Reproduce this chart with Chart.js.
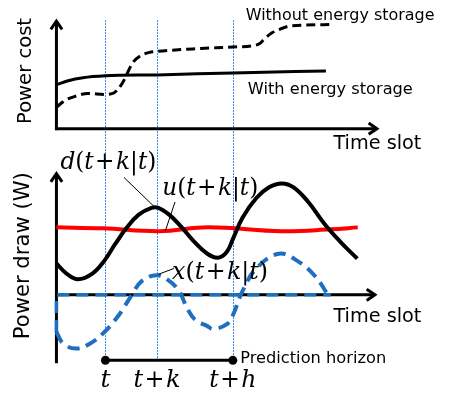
<!DOCTYPE html>
<html><head><meta charset="utf-8">
<script src="https://cdn.jsdelivr.net/npm/chart.js@4/dist/chart.umd.min.js"></script>
<style>html,body{margin:0;padding:0;background:#fff}canvas{display:block}</style>
</head><body>
<canvas id="c" width="449" height="400"></canvas>
<script>
// ---- data (schematic units) ----
const slotValues = [2, 4.1, 7.2];
const slotLabels = ['t', 't+k', 't+h'];

// top panel: power cost
const withStorageX = [0, 0.48, 1.08, 2, 4.1, 7.2, 11];
const withStorageY = [4.5, 4.9, 5.2, 5.4, 5.5, 5.7, 5.9];
const withoutStorageX = [0, 0.36, 0.76, 1.28, 2, 2.3, 2.5, 2.7, 2.9, 3.1, 3.4, 3.8, 4.1, 5.9, 7.2, 8.05, 8.3, 8.5, 8.8, 9.15, 9.55, 11.3];
const withoutStorageY = [2.2, 2.9, 3.3, 3.6, 3.5, 3.6, 4.0, 4.7, 5.7, 6.7, 7.4, 7.8, 7.9, 8.2, 8.35, 8.5, 8.7, 9.2, 9.8, 10.2, 10.5, 10.65];

// bottom panel: power draw
const demandX = [0, 0.4, 0.88, 1.48, 1.96, 2.4, 2.88, 3.36, 3.88, 4.16, 4.6, 5.08, 5.6, 6.16, 6.6, 6.96, 7.2, 7.6, 8.16, 8.68, 9.2, 9.68, 10.28, 10.96, 11.6, 12.28];
const demandY = [3.2, 2.2, 1.6, 2.2, 3.5, 5.2, 6.9, 8.2, 8.9, 8.9, 8.2, 7.0, 5.5, 4.2, 3.8, 4.4, 5.7, 7.9, 9.9, 11.0, 11.4, 11.0, 9.5, 7.2, 5.4, 3.7];
const gridX = [0, 1.9, 4.2, 6.2, 9.2, 11.2, 12.3];
const gridY = [6.9, 6.8, 6.5, 6.9, 6.5, 6.7, 6.9];
const storageX = [0, 0.28, 0.8, 1.36, 1.88, 2.48, 3.08, 3.48, 4.08, 4.56, 5.0, 5.36, 5.68, 6.16, 6.4, 6.96, 7.2, 7.6, 8.16, 9.08, 9.88, 10.56, 11.08];
const storageY = [-3.8, -5.0, -5.5, -5.0, -4.0, -2.3, 0, 1.4, 2.0, 1.5, 0.4, -1.5, -2.6, -3.2, -3.5, -3.0, -2.1, 0.4, 2.7, 4.2, 3.4, 1.9, 0];
const storageZeroX = [0, 0, 11.2];
const storageZeroY = [-3.8, 0, 0];
const horizonX = [2, 7.2];
const horizonY = [-6.7, -6.7];

const pts = (xs, ys) => xs.map((x, i) => ({x, y: ys[i]}));

const BLUE = '#1f6fc0';
const SANS = '"DejaVu Sans", sans-serif';
const SERIF = '"DejaVu Serif", serif';

function arrow(ctx, x1, y1, x2, y2) {
  ctx.beginPath(); ctx.moveTo(x1, y1); ctx.lineTo(x2, y2); ctx.stroke();
  const a = Math.atan2(y2 - y1, x2 - x1), L = 10, h = 0.6;
  ctx.beginPath();
  ctx.moveTo(x2 - L * Math.cos(a - h), y2 - L * Math.sin(a - h));
  ctx.lineTo(x2, y2);
  ctx.lineTo(x2 - L * Math.cos(a + h), y2 - L * Math.sin(a + h));
  ctx.stroke();
}
function fitText(ctx, txt, cx, cy, width, rot) {
  ctx.save();
  ctx.font = '20px ' + SANS;
  const w = ctx.measureText(txt).width;
  ctx.font = (20 * width / w).toFixed(2) + 'px ' + SANS;
  ctx.fillStyle = '#000'; ctx.textAlign = 'center'; ctx.textBaseline = 'middle';
  ctx.translate(cx, cy); if (rot) ctx.rotate(rot);
  ctx.fillText(txt, 0, 0);
  ctx.restore();
}
function mathText(ctx, s, cx, cy, width) {
  const runs = [...s].map(ch => ({ch, it: /[a-z]/.test(ch)}));
  const measure = (size) => runs.map(r => {
    ctx.font = (r.it ? 'italic ' : '') + size + 'px ' + SERIF;
    let w = ctx.measureText(r.ch).width;
    if (r.ch === '+') w += size * 0.12;
    return w;
  });
  let ws = measure(20); let tot = ws.reduce((a, b) => a + b, 0);
  const size = 20 * width / tot;
  ws = measure(size); tot = ws.reduce((a, b) => a + b, 0);
  let x = cx - tot / 2;
  ctx.save(); ctx.fillStyle = '#000'; ctx.textAlign = 'center'; ctx.textBaseline = 'middle';
  runs.forEach((r, i) => {
    ctx.font = (r.it ? 'italic ' : '') + size.toFixed(2) + 'px ' + SERIF;
    ctx.fillText(r.ch, x + ws[i] / 2, cy);
    x += ws[i];
  });
  ctx.restore();
}

const decor = {
  id: 'decor',
  beforeDatasetsDraw(chart) {
    const ctx = chart.ctx, s = chart.scales;
    const X = v => s.x.getPixelForValue(v), YT = v => s.yTop.getPixelForValue(v), YB = v => s.yBot.getPixelForValue(v);
    ctx.save();
    // dotted guide lines
    ctx.strokeStyle = '#2a8cf0'; ctx.lineWidth = 1; ctx.setLineDash([2, 1]);
    slotValues.forEach(v => {
      const px = Math.round(X(v)) + 0.5;
      ctx.beginPath(); ctx.moveTo(px, YT(11.1)); ctx.lineTo(px, YB(-6.7)); ctx.stroke();
    });
    ctx.setLineDash([]);
    ctx.strokeStyle = '#000'; ctx.lineWidth = 3; ctx.lineCap = 'butt';
    // top axes
    arrow(ctx, X(0), YT(0) + 1.5, X(0), YT(11));
    arrow(ctx, X(0) - 1.5, YT(0), X(13.08), YT(0));
    // bottom axes
    arrow(ctx, X(0), YB(-7), X(0), YB(12.4));
    arrow(ctx, X(0), YB(0), X(13.0), YB(0));
    ctx.restore();
  },
  afterDatasetsDraw(chart) {
    const ctx = chart.ctx, s = chart.scales;
    const X = v => s.x.getPixelForValue(v), YT = v => s.yTop.getPixelForValue(v), YB = v => s.yBot.getPixelForValue(v);
    ctx.save();
    // leader lines
    ctx.strokeStyle = '#000'; ctx.lineWidth = 1;
    const lead = (x1, y1, x2, y2) => { ctx.beginPath(); ctx.moveTo(X(x1), YB(y1)); ctx.lineTo(X(x2), YB(y2)); ctx.stroke(); };
    lead(2.76, 12.0, 4.0, 9.0);
    lead(4.84, 9.5, 4.44, 6.5);
    lead(4.8, 2.7, 4.16, 2.1);
    // math labels
    mathText(ctx, 'd(t+k|t)', X(2.12), YB(13.5), 96);
    mathText(ctx, 'u(t+k|t)', X(6.28), YB(10.8), 96);
    mathText(ctx, 'x(t+k|t)', X(6.68), YB(2.2), 96);
    // slot tick labels
    const tw = [10, 47, 47];
    slotValues.forEach((v, i) => mathText(ctx, slotLabels[i], X(v), YB(-8.8), tw[i]));
    // sans texts
    fitText(ctx, 'Without energy storage', X(11.58), YT(11.5), 189);
    fitText(ctx, 'With energy storage', X(11.18), YT(4.0), 165);
    fitText(ctx, 'Time slot', X(13.1), YT(-1.6), 88);
    fitText(ctx, 'Time slot', X(13.1), YB(-2.3), 88);
    fitText(ctx, 'Prediction horizon', X(10.48), YB(-6.5), 146);
    fitText(ctx, 'Power cost', 26, YT(5.9), 106, -Math.PI / 2);
    fitText(ctx, 'Power draw (W)', 24, YB(4.0), 167, -Math.PI / 2);
    ctx.restore();
  }
};

new Chart(document.getElementById('c'), {
  type: 'line',
  data: {
    datasets: [
      {data: pts(horizonX, horizonY), yAxisID: 'yBot', borderColor: '#000', borderWidth: 3, pointRadius: 4.5, pointBackgroundColor: '#000', pointBorderWidth: 0},
      {data: pts(storageZeroX, storageZeroY), yAxisID: 'yBot', borderColor: BLUE, borderWidth: 3.5, borderDash: [12, 7], tension: 0},
      {data: pts(storageX, storageY), yAxisID: 'yBot', borderColor: BLUE, borderWidth: 4, borderDash: [12, 7], tension: 0.4},
      {data: pts(demandX, demandY), yAxisID: 'yBot', borderColor: '#000', borderWidth: 4, tension: 0.4},
      {data: pts(gridX, gridY), yAxisID: 'yBot', borderColor: '#ff0000', borderWidth: 4, tension: 0.4},
      {data: pts(withoutStorageX, withoutStorageY), yAxisID: 'yTop', borderColor: '#000', borderWidth: 3, borderDash: [9, 5], cubicInterpolationMode: 'monotone'},
      {data: pts(withStorageX, withStorageY), yAxisID: 'yTop', borderColor: '#000', borderWidth: 3, cubicInterpolationMode: 'monotone'}
    ]
  },
  options: {
    responsive: false, animation: false, events: [],
    layout: {padding: 0},
    plugins: {legend: {display: false}, tooltip: {enabled: false}},
    elements: {point: {radius: 0}},
    scales: {
      x: {type: 'linear', display: false, min: -53 / 25, max: (449 - 53) / 25},
      yTop: {type: 'linear', display: false, min: -27.3, max: 12.7},
      yBot: {type: 'linear', display: false, min: -10.3, max: 29.7}
    }
  },
  plugins: [decor]
});
</script>
</body></html>
